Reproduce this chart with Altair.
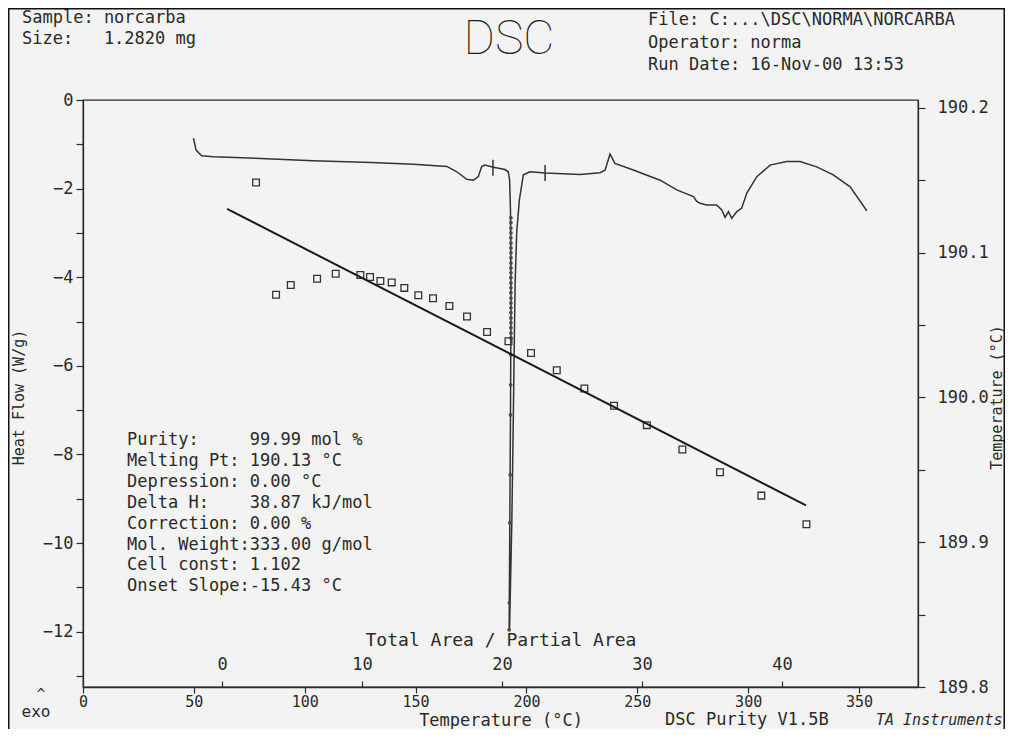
import altair as alt
import pandas as pd

# ---------------- data ----------------
# Heat-flow trace (temperature degC, heat flow W/g), in drawing order
curve_temp = [49.8, 51.0, 53.5, 58.8, 80.0, 103.9, 130.0, 149.0, 164.1, 168.6,
              173.1, 176.1, 178.3, 179.8, 181.3, 185.1, 190.35, 191.8, 192.4, 192.8,
              193.05, 192.8, 192.5, 192.2, 192.4, 193.4, 194.1, 194.55, 194.9, 195.6,
              196.8, 198.6, 201.6, 208.4, 224.2, 233.2, 235.5, 237.7, 239.9, 248.2,
              260.3, 267.8, 275.3, 276.8, 278.3, 281.3, 285.8, 288.1, 289.6, 291.1,
              292.6, 294.9, 297.1, 299.4, 303.9, 309.9, 317.4, 323.4, 330.9, 338.4,
              346.0, 353.5]
curve_flow = [-0.86, -1.13, -1.26, -1.28, -1.32, -1.37, -1.41, -1.45, -1.50, -1.62,
              -1.79, -1.81, -1.73, -1.50, -1.47, -1.52, -1.57, -1.62, -1.80, -2.48,
              -4.51, -7.11, -9.54, -11.96, -11.91, -9.54, -7.11, -5.35, -4.13, -3.00,
              -2.26, -1.69, -1.62, -1.65, -1.68, -1.64, -1.58, -1.22, -1.43, -1.58,
              -1.81, -2.03, -2.18, -2.29, -2.33, -2.37, -2.37, -2.48, -2.65, -2.52,
              -2.67, -2.52, -2.44, -2.10, -1.73, -1.47, -1.39, -1.39, -1.51, -1.69,
              -1.96, -2.50]

# Partial-area points marked on the melting peak
dot_temp = [193.0] * 25 + [192.95, 192.9, 192.8, 192.7, 192.5, 192.3, 192.2]
dot_flow = [-2.66, -2.77, -2.89, -3.00, -3.11, -3.23, -3.34, -3.45, -3.56, -3.68,
            -3.79, -3.90, -4.01, -4.13, -4.24, -4.35, -4.47, -4.58, -4.69, -4.80,
            -4.92, -5.03, -5.14, -5.26, -5.37,
            -5.75, -6.43, -7.11, -8.46, -9.54, -11.35, -11.96]

# Integration limit markers
marker_temp = [184.9, 208.4]
marker_top = [-1.35, -1.47]
marker_bot = [-1.71, -1.83]

# Purity plot: sample temperature vs Total Area / Partial Area
sq_area = [2.43, 3.86, 4.91, 6.79, 8.12, 9.88, 10.57, 11.31, 12.12, 13.02,
           14.02, 15.07, 16.24, 17.50, 18.93, 20.46, 22.07, 23.91, 25.88, 28.00,
           30.34, 32.88, 35.57, 38.52, 41.74]
sq_temp = [190.1485, 190.0710, 190.0777, 190.0820, 190.0855, 190.0846, 190.0832,
           190.0805, 190.0795, 190.0757, 190.0706, 190.0685, 190.0632, 190.0559,
           190.0452, 190.0388, 190.0307, 190.0188, 190.0062, 189.9943, 189.9809,
           189.9641, 189.9483, 189.9322, 189.9124]

# Fitted line
fit_area = [0.36, 41.71]
fit_temp = [190.1303, 189.9255]

# Axis ticks
hf_ticks = [0, -1, -2, -3, -4, -5, -6, -7, -8, -9, -10, -11, -12, -13]
t_ticks = [0, 50, 100, 150, 200, 250, 300, 350]
area_ticks = [0, 10, 20, 30, 40]
rt_ticks = [189.8, 189.85, 189.9, 189.95, 190.0, 190.05, 190.1, 190.15, 190.2]

header_left = "Sample:\u00a0norcarba\nSize:\u00a0\u00a0\u00a01.2820\u00a0mg"
header_right = "File:\u00a0C:...\\DSC\\NORMA\\NORCARBA\nOperator:\u00a0norma\nRun\u00a0Date:\u00a016-Nov-00\u00a013:53"
info_lines = [
    "Purity:     99.99 mol %",
    "Melting Pt: 190.13 °C",
    "Depression: 0.00 °C",
    "Delta H:    38.87 kJ/mol",
    "Correction: 0.00 %",
    "Mol. Weight:333.00 g/mol",
    "Cell const: 1.102",
    "Onset Slope:-15.43 °C",
]

# ---------------- chart ----------------
FONT = "DejaVu Sans Mono"
INK = "#2a2a2a"
W, H = 835, 587

curve_df = pd.DataFrame({"T": curve_temp, "HF": curve_flow, "i": list(range(len(curve_temp)))})
dot_df = pd.DataFrame({"T": dot_temp, "HF": dot_flow})
mark_df = pd.DataFrame({"T": marker_temp, "HF": marker_top, "HF2": marker_bot})
sq_df = pd.DataFrame({"A": sq_area, "TT": sq_temp})
fit_df = pd.DataFrame({"A": fit_area, "TT": fit_temp})
one = pd.DataFrame({"k": [0]})

axis_common = dict(labelFont=FONT, labelColor=INK, tickColor=INK, domainColor=INK,
                   titleFont=FONT, titleColor=INK, titleFontWeight="normal", grid=False,
                   tickWidth=1.2, domainWidth=1.3)

x_t = alt.X("T:Q", title="Temperature (°C)",
            scale=alt.Scale(domain=[0, 376.6], nice=False, zero=False),
            axis=alt.Axis(values=t_ticks, tickSize=6, labelPadding=1, labelFontSize=15,
                          titleFontSize=17, titleY=33, titleBaseline="middle",
                          labelFlush=False, **axis_common))
y_hf = alt.Y("HF:Q", title="Heat Flow (W/g)",
             scale=alt.Scale(domain=[-13.25, 0], nice=False, zero=False),
             axis=alt.Axis(values=hf_ticks, tickSize=7, labelPadding=3, labelFontSize=17,
                           labelExpr="datum.value % 2 == 0 ? datum.label : ''",
                           titleFontSize=15, titleX=-65, titleY=297, titleAngle=270,
                           titleBaseline="middle", titleAlign="center", labelFlush=False,
                           **axis_common))

curve = alt.Chart(curve_df).mark_line(color="#333333", strokeWidth=1.5).encode(
    x=x_t, y=y_hf, order="i:Q")
dots = alt.Chart(dot_df).mark_circle(size=14, color="#4a4a4a", opacity=1).encode(x=x_t, y=y_hf)
markers = alt.Chart(mark_df).mark_rule(color="#333333", strokeWidth=1.5).encode(
    x=x_t, y=y_hf, y2="HF2:Q")

def label(text, x, y, size=18, align="left", baseline="middle", style="normal",
          font=FONT, weight="normal", line_height=None, color=INK):
    kw = dict(align=align, baseline=baseline, fontSize=size, font=font, fontStyle=style,
              fontWeight=weight, color=color, lineBreak="\n")
    if line_height:
        kw["lineHeight"] = line_height
    return alt.Chart(one).mark_text(**kw).encode(
        x=alt.value(x), y=alt.value(y), text=alt.value(text))

info_text = "\n".join(s.replace(" ", "\u00a0") for s in info_lines)

texts = [
    label(header_left, -61, -82, size=17, line_height=21),
    label(header_right, 565, -80, size=17, line_height=22.5),
    label("DSC", 426, -60, size=48, align="center", font="Roboto", weight=100, color="#1e1e1e"),
    label(info_text, 44, 340, size=17, line_height=20.9),
    label("^", -42, 595, size=14, align="center"),
    label("exo", -47, 612, size=16, align="center"),
    label("DSC\u00a0Purity\u00a0V1.5B", 582, 620, size=17),
    label("TA\u00a0Instruments", 793, 620, size=15, style="italic"),
]

# scanned page edge (top, left, right)
edge = dict(color="#111111", strokeWidth=3)
edge_top = alt.Chart(one).mark_rule(**edge).encode(
    x=alt.value(-75), x2=alt.value(W + 87), y=alt.value(-92))
edge_left = alt.Chart(one).mark_rule(**edge).encode(
    x=alt.value(-75), y=alt.value(-92), y2=alt.value(H + 42))
edge_right = alt.Chart(one).mark_rule(**edge).encode(
    x=alt.value(W + 87), y=alt.value(-92), y2=alt.value(H + 42))

left = alt.layer(curve, dots, markers, *texts, edge_top, edge_left, edge_right)

x_a = alt.X("A:Q", title="Total Area / Partial Area",
            scale=alt.Scale(domain=[-9.93, 49.71], nice=False, zero=False),
            axis=alt.Axis(orient="top", offset=-H, values=area_ticks, domain=False,
                          tickSize=6, labelPadding=8, labelFontSize=17, titleFontSize=18,
                          titleY=-47, titleBaseline="middle", labelFlush=False,
                          **axis_common))
y_tt = alt.Y("TT:Q", title="Temperature (°C)",
             scale=alt.Scale(domain=[189.8, 190.2055], nice=False, zero=False),
             axis=alt.Axis(orient="right", values=rt_ticks, tickSize=7, labelPadding=12,
                           labelExpr="abs(round(datum.value * 100)) % 10 == 0 ? format(datum.value, '.1f') : ''",
                           labelFontSize=17, titleFontSize=15, titleX=78, titleY=297,
                           titleAngle=270, titleBaseline="middle", titleAlign="center",
                           labelFlush=False, **axis_common))

squares = alt.Chart(sq_df).mark_point(shape="square", filled=False, size=45, strokeWidth=1.3,
                                      color="#333333", opacity=1).encode(x=x_a, y=y_tt)
fit = alt.Chart(fit_df).mark_line(color="#1a1a1a", strokeWidth=2).encode(x=x_a, y=y_tt)

right = alt.layer(squares, fit)

chart = alt.layer(left, right).resolve_scale(x="independent", y="independent").properties(
    width=W, height=H,
    autosize=alt.AutoSizeParams(type="none"),
    padding={"left": 75, "top": 92, "right": 87, "bottom": 42},
    background="#f3f3f3",
).configure_view(stroke=INK, strokeWidth=1.3)

chart.save("out.html", embed_options={"renderer": "svg", "actions": False})
